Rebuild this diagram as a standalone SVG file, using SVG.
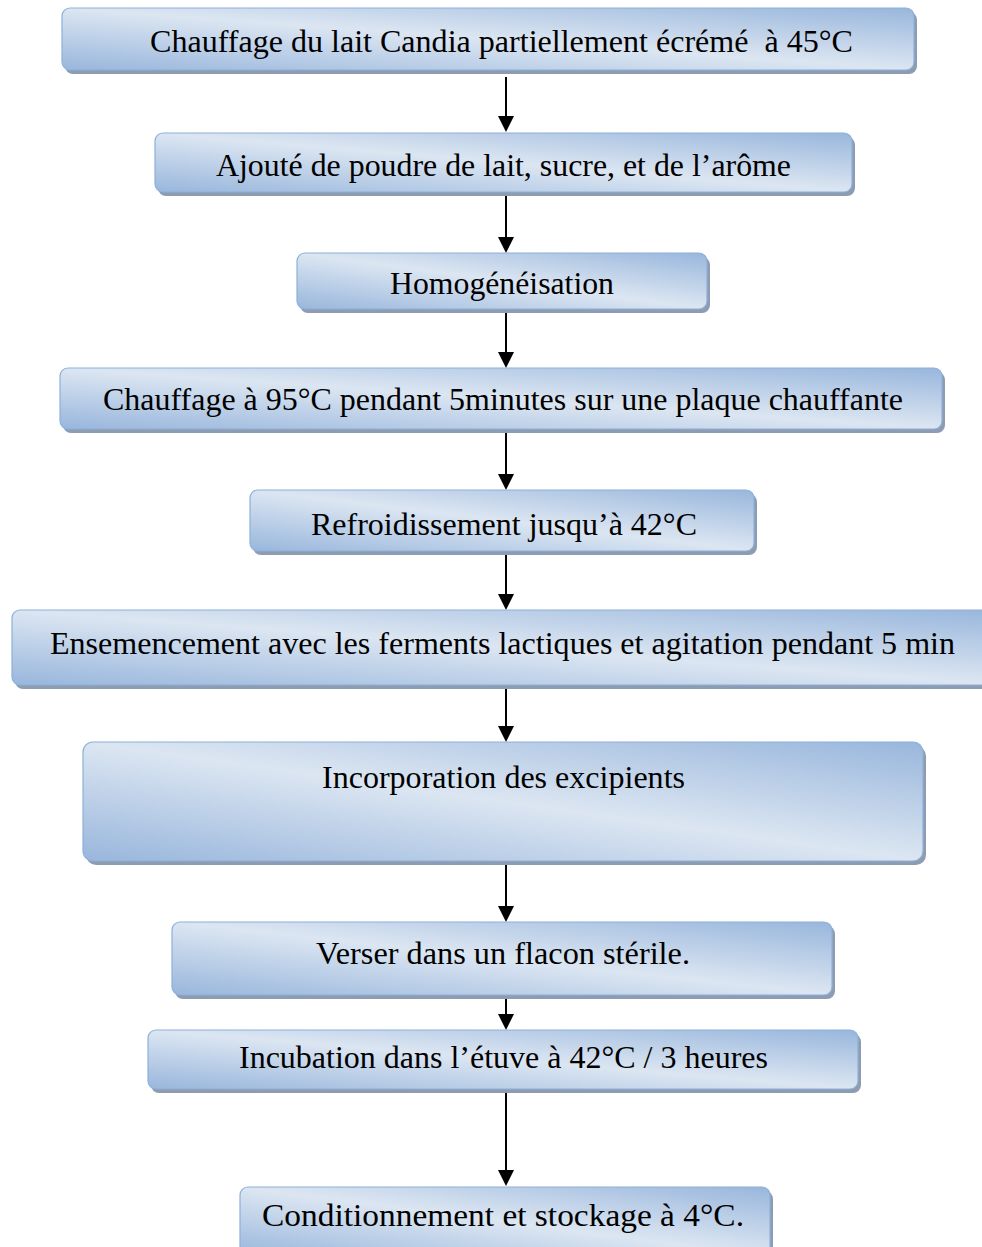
<svg xmlns="http://www.w3.org/2000/svg" width="982" height="1247" viewBox="0 0 982 1247">
<defs>
<linearGradient id="g" x1="0" y1="1" x2="1" y2="0">
<stop offset="0" stop-color="#98b6dc"/>
<stop offset="0.5" stop-color="#dce6f2"/>
<stop offset="1" stop-color="#98b6dc"/>
</linearGradient>
<style>
.sh{fill:#8e9cb1}
.bx{fill:url(#g);stroke:#8eb0da;stroke-width:1.2}
.t{font-family:"Liberation Serif","Times New Roman",serif;font-size:32px;fill:#000;text-anchor:middle}
.c{stroke:#000;stroke-width:2;fill:none}
.h{fill:#000}
</style>
</defs>
<rect width="982" height="1247" fill="#fff"/>
<g id="connectors">
<line class="c" x1="506" y1="77" x2="506" y2="117"/><path class="h" d="M498,116 L514,116 L506,132 Z"/>
<line class="c" x1="506" y1="196" x2="506" y2="238"/><path class="h" d="M498,237 L514,237 L506,253 Z"/>
<line class="c" x1="506" y1="313" x2="506" y2="353"/><path class="h" d="M498,352 L514,352 L506,368 Z"/>
<line class="c" x1="506" y1="433" x2="506" y2="475"/><path class="h" d="M498,474 L514,474 L506,490 Z"/>
<line class="c" x1="506" y1="555" x2="506" y2="595"/><path class="h" d="M498,594 L514,594 L506,610 Z"/>
<line class="c" x1="506" y1="689" x2="506" y2="727"/><path class="h" d="M498,726 L514,726 L506,742 Z"/>
<line class="c" x1="506" y1="865" x2="506" y2="907"/><path class="h" d="M498,906 L514,906 L506,922 Z"/>
<line class="c" x1="506" y1="999" x2="506" y2="1015"/><path class="h" d="M498,1014 L514,1014 L506,1030 Z"/>
<line class="c" x1="506" y1="1093" x2="506" y2="1171"/><path class="h" d="M498,1170 L514,1170 L506,1186 Z"/>
</g>
<g id="n1"><rect class="sh" x="65" y="12" width="852" height="62" rx="8"/><rect class="bx" x="62" y="8" width="852" height="62" rx="8"/><text class="t" x="501.5" y="52" xml:space="preserve" textLength="703" lengthAdjust="spacingAndGlyphs">Chauffage du lait Candia partiellement écrémé  à 45°C</text></g>
<g id="n2"><rect class="sh" x="158" y="137" width="697" height="59" rx="8"/><rect class="bx" x="155" y="133" width="697" height="59" rx="8"/><text class="t" x="503.5" y="176" textLength="575" lengthAdjust="spacingAndGlyphs">Ajouté de poudre de lait, sucre, et de l’arôme</text></g>
<g id="n3"><rect class="sh" x="300" y="257" width="410" height="56" rx="8"/><rect class="bx" x="297" y="253" width="410" height="56" rx="8"/><text class="t" x="502" y="294" textLength="224" lengthAdjust="spacingAndGlyphs">Homogénéisation</text></g>
<g id="n4"><rect class="sh" x="63" y="372" width="882" height="61" rx="8"/><rect class="bx" x="60" y="368" width="882" height="61" rx="8"/><text class="t" x="503" y="410" textLength="800" lengthAdjust="spacingAndGlyphs">Chauffage à 95°C pendant 5minutes sur une plaque chauffante</text></g>
<g id="n5"><rect class="sh" x="253" y="494" width="504" height="61" rx="8"/><rect class="bx" x="250" y="490" width="504" height="61" rx="8"/><text class="t" x="504" y="535" textLength="386" lengthAdjust="spacingAndGlyphs">Refroidissement jusqu’à 42°C</text></g>
<g id="n6"><rect class="sh" x="15" y="614" width="990" height="75" rx="8"/><rect class="bx" x="12" y="610" width="990" height="75" rx="8"/><text class="t" x="502.5" y="654" textLength="905" lengthAdjust="spacingAndGlyphs">Ensemencement avec les ferments lactiques et agitation pendant 5 min</text></g>
<g id="n7"><rect class="sh" x="86" y="746" width="840" height="119" rx="10"/><rect class="bx" x="83" y="742" width="840" height="119" rx="10"/><text class="t" x="503.5" y="788" textLength="363" lengthAdjust="spacingAndGlyphs">Incorporation des excipients</text></g>
<g id="n8"><rect class="sh" x="175" y="926" width="660" height="73" rx="8"/><rect class="bx" x="172" y="922" width="660" height="73" rx="8"/><text class="t" x="503" y="964" textLength="374" lengthAdjust="spacingAndGlyphs">Verser dans un flacon stérile.</text></g>
<g id="n9"><rect class="sh" x="151" y="1034" width="710" height="59" rx="8"/><rect class="bx" x="148" y="1030" width="710" height="59" rx="8"/><text class="t" x="503.5" y="1068" textLength="529" lengthAdjust="spacingAndGlyphs">Incubation dans l’étuve à 42°C / 3 heures</text></g>
<g id="n10"><rect class="sh" x="243" y="1191" width="530" height="70" rx="8"/><rect class="bx" x="240" y="1187" width="530" height="70" rx="8"/><text class="t" x="503" y="1226" textLength="482" lengthAdjust="spacingAndGlyphs">Conditionnement et stockage à 4°C.</text></g>
</svg>
